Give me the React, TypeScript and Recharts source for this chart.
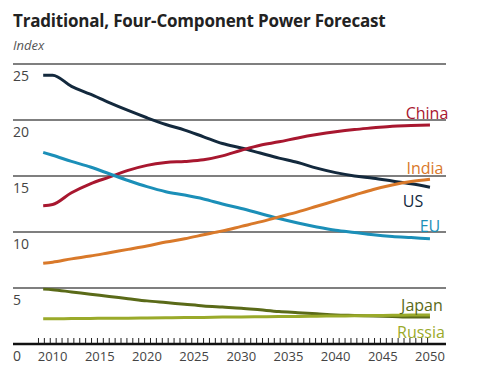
import { LineChart, Line, XAxis, YAxis, CartesianGrid } from 'recharts';

const years = [2009, 2010, 2012, 2014, 2016, 2018, 2020, 2022, 2024, 2026, 2028, 2030, 2032, 2034, 2036, 2038, 2040, 2042, 2044, 2046, 2048, 2050];

const usValues = [24.0, 24.0, 23.0, 22.3, 21.55, 20.85, 20.2, 19.6, 19.1, 18.5, 17.9, 17.5, 17.05, 16.6, 16.2, 15.7, 15.3, 15.0, 14.8, 14.55, 14.3, 14.0];
const chinaValues = [12.35, 12.45, 13.5, 14.3, 14.9, 15.5, 15.95, 16.2, 16.3, 16.45, 16.8, 17.3, 17.75, 18.05, 18.4, 18.7, 18.95, 19.15, 19.3, 19.45, 19.5, 19.55];
const euValues = [17.1, 16.85, 16.3, 15.8, 15.2, 14.6, 14.05, 13.6, 13.3, 12.95, 12.5, 12.1, 11.65, 11.2, 10.8, 10.45, 10.15, 9.95, 9.75, 9.6, 9.5, 9.4];
const indiaValues = [7.2, 7.3, 7.6, 7.85, 8.15, 8.45, 8.75, 9.1, 9.4, 9.75, 10.1, 10.5, 10.9, 11.35, 11.8, 12.3, 12.8, 13.3, 13.8, 14.2, 14.5, 14.7];
const japanValues = [4.9, 4.85, 4.65, 4.45, 4.25, 4.05, 3.85, 3.7, 3.55, 3.4, 3.3, 3.2, 3.05, 2.9, 2.8, 2.7, 2.6, 2.55, 2.5, 2.45, 2.4, 2.4];
const russiaValues = [2.25, 2.25, 2.27, 2.28, 2.3, 2.3, 2.32, 2.34, 2.36, 2.37, 2.4, 2.41, 2.43, 2.45, 2.46, 2.48, 2.5, 2.52, 2.54, 2.56, 2.58, 2.6];

const yearTicks = [2010, 2015, 2020, 2025, 2030, 2035, 2040, 2045, 2050];
const valueTicks = [0, 5, 10, 15, 20, 25];
// small tick marks along the axis, about 8 per five years
const minorTicks = Array.from({ length: 67 }, (_, i) => 2008.5 + i * 0.625);
const allXTicks = [...minorTicks, ...yearTicks].sort((a, b) => a - b);

const font = '"Open Sans", "Noto Sans", sans-serif';

const series = [
  { name: 'US', values: usValues, color: '#13293d', dx: -17, dy: 14 },
  { name: 'China', values: chinaValues, color: '#a8172f', dx: -3, dy: -12 },
  { name: 'EU', values: euValues, color: '#1b8fb8', dx: 0, dy: -12 },
  { name: 'India', values: indiaValues, color: '#d9792a', dx: -5, dy: -11 },
  { name: 'Japan', values: japanValues, color: '#5a6a18', dx: -8, dy: -12 },
  { name: 'Russia', values: russiaValues, color: '#9aaa2a', dx: -9, dy: 18 },
];

const toRows = (values: number[]) => years.map((year, i) => ({ year, value: values[i] }));

function renderYTick(props: any) {
  return (
    <text x={13} y={props.y + 12} dy="0.35em" fill="#444" fontSize={14} fontFamily={font}>
      {props.payload.value}
    </text>
  );
}

function renderXTick(props: any) {
  const v = props.payload.value;
  if (yearTicks.includes(v)) {
    return (
      <text x={props.x} y={props.y + 12} dy="0.35em" textAnchor="middle" fill="#444" fontSize={13} fontFamily={font}>
        {v}
      </text>
    );
  }
  return <line x1={props.x} x2={props.x} y1={props.y - 6} y2={props.y - 1} stroke="#222" strokeWidth={1} />;
}

function endLabel(name: string, color: string, dx: number, dy: number, count: number) {
  return (props: any) => {
    if (props.index !== count - 1) return null;
    return (
      <text
        x={props.x + dx}
        y={props.y + dy}
        dy="0.35em"
        textAnchor="middle"
        fill={color}
        fontSize={16}
        fontFamily={font}
      >
        {name}
      </text>
    );
  };
}

export default function App() {
  return (
    <div style={{ position: 'absolute', left: 0, top: 0, width: 500, height: 375, background: '#fff' }}>
      <div
        style={{
          position: 'absolute',
          left: 13,
          top: 9,
          fontFamily: font,
          fontWeight: 700,
          fontSize: 17,
          letterSpacing: -0.2,
          color: '#222',
          whiteSpace: 'nowrap',
        }}
      >
        Traditional, Four-Component Power Forecast
      </div>
      <div
        style={{
          position: 'absolute',
          left: 13,
          top: 36,
          fontFamily: font,
          fontStyle: 'italic',
          fontSize: 13,
          color: '#555',
        }}
      >
        Index
      </div>
      <LineChart width={500} height={375} margin={{ top: 64, right: 54, bottom: 0, left: 12 }}>
        <CartesianGrid horizontal vertical={false} stroke="#555" strokeWidth={1.5} />
        <XAxis
          dataKey="year"
          type="number"
          domain={[2005.8, 2051.7]}
          ticks={allXTicks}
          interval={0}
          allowDuplicatedCategory={false}
          height={31}
          tickLine={false}
          tickSize={0}
          tickMargin={0}
          axisLine={{ stroke: '#111', strokeWidth: 2.5 }}
          tick={renderXTick}
        />
        <YAxis
          type="number"
          domain={[0, 25]}
          ticks={valueTicks}
          interval={0}
          width={1}
          axisLine={false}
          tickLine={false}
          tick={renderYTick}
        />
        {series.map((s) => (
          <Line
            key={s.name}
            data={toRows(s.values)}
            dataKey="value"
            type="monotone"
            stroke={s.color}
            strokeWidth={3}
            dot={false}
            isAnimationActive={false}
            label={endLabel(s.name, s.color, s.dx, s.dy, s.values.length)}
          />
        ))}
      </LineChart>
    </div>
  );
}
